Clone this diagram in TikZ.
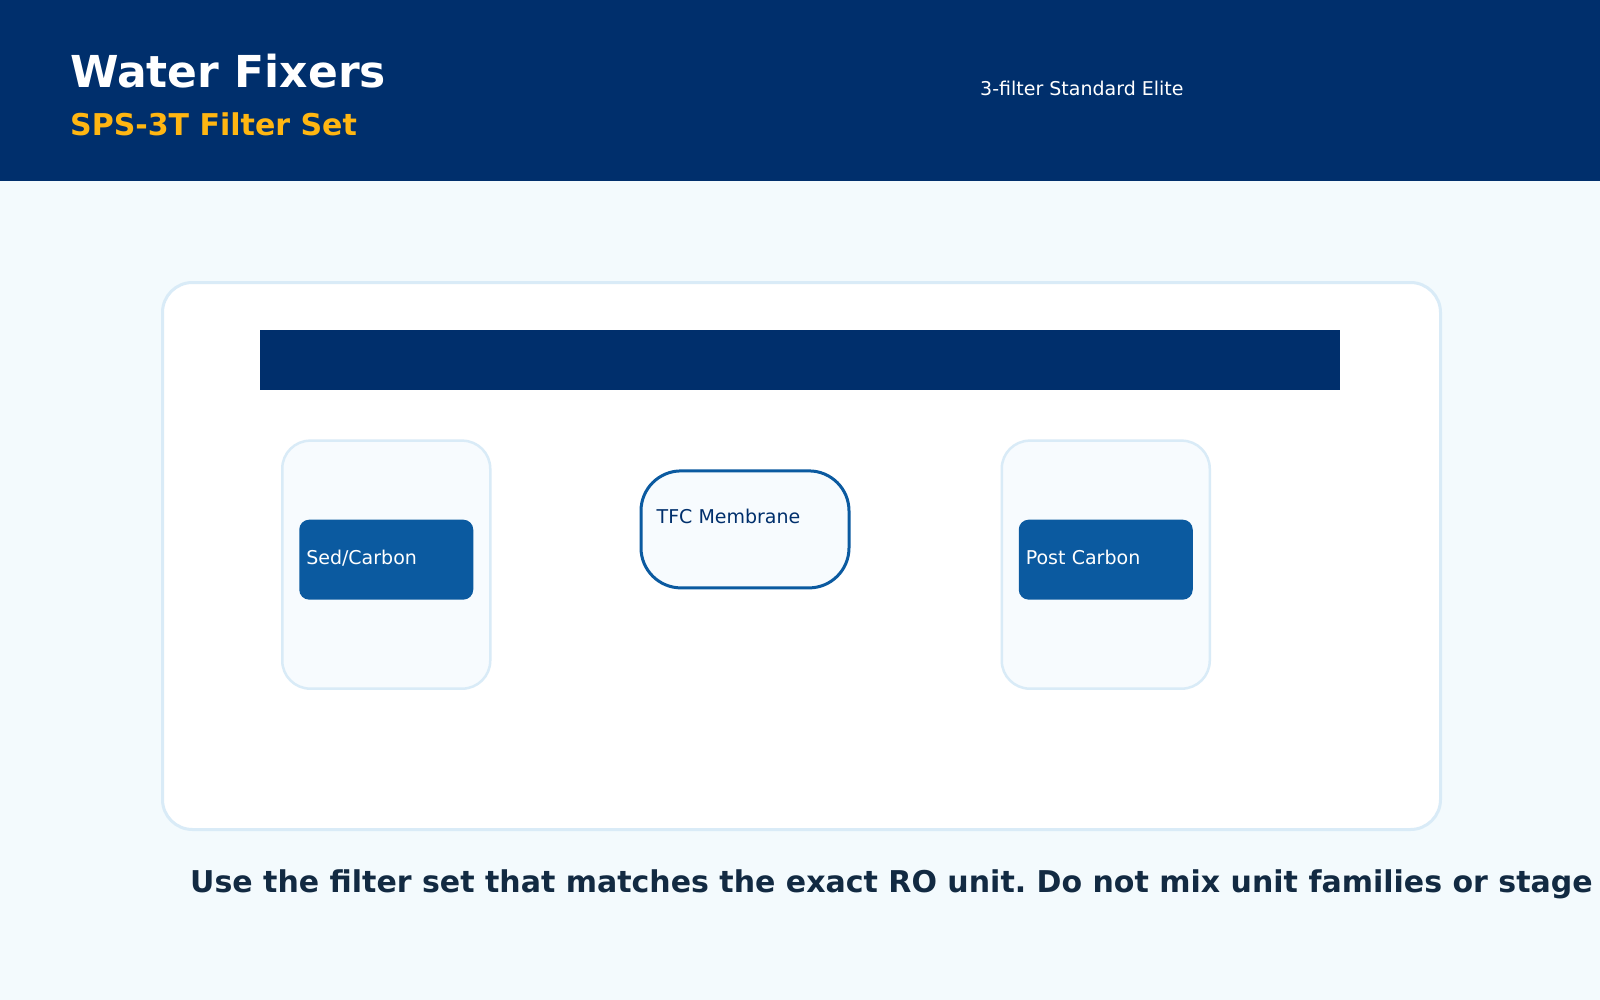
\documentclass[tikz,border=0pt]{standalone}
\usepackage{fontspec}
\setmainfont{DejaVu Sans}
\usepackage{xcolor}
\usetikzlibrary{positioning}

\definecolor{navy}{RGB}{0,47,108}
\definecolor{gold}{RGB}{255,182,18}
\definecolor{paleblue}{RGB}{243,250,253}
\definecolor{edgeblue}{RGB}{217,235,247}
\definecolor{stageblue}{RGB}{11,90,160}
\definecolor{cellfill}{RGB}{247,251,254}
\definecolor{ink}{RGB}{18,42,66}

\tikzset{
  card/.style={draw=edgeblue, line width=3pt, fill=white, rounded corners=30pt,
    minimum width=1278pt, minimum height=547pt, inner sep=0pt},
  cartridge/.style={draw=edgeblue, line width=2.5pt, fill=cellfill, rounded corners=28pt,
    minimum width=208pt, minimum height=248pt, inner sep=0pt},
  stage/.style={fill=stageblue, rounded corners=10pt, text=white, minimum width=174pt,
    minimum height=80pt, text width=160pt, inner xsep=7pt, inner ysep=0pt, align=left,
    text height=17pt, text depth=7pt, font=\fontsize{19}{23}\selectfont},
  membrane/.style={draw=stageblue, line width=3pt, fill=cellfill, rounded corners=40pt,
    minimum width=208pt, minimum height=117pt, inner sep=0pt},
  lbl/.style={anchor=base west, inner sep=0pt, font=\fontsize{19}{23}\selectfont},
}

\begin{document}
\frenchspacing
\begin{tikzpicture}[x=1pt,y=-1pt]
  \path[use as bounding box, fill=paleblue] (0,0) rectangle (1600,1000);
  \fill[navy] (0,0) rectangle (1600,181);

  % header
  \node (brand) [anchor=base west, inner sep=0pt, text=white,
    font=\bfseries\fontsize{44}{52}\selectfont] at (70,88) {Water Fixers};
  \node (set) [below=48pt of brand.base west, anchor=base west, inner sep=0pt, text=gold,
    font=\bfseries\fontsize{30}{36}\selectfont] {SPS-3T Filter Set};
  \node (line) [lbl, text=white] at (980,96) {3-filter Standard Elite};

  % card
  \node (card) [card, anchor=north west] at (161,281) {};
  \node (bar) [below right=49pt and 99pt of card.north west, fill=navy,
    minimum width=1080pt, minimum height=60pt, inner sep=0pt] {};

  % stages
  \node (pre) [cartridge, below right=49pt and 21pt of bar.south west] {};
  \node (sed) [stage] at ([yshift=5pt]pre.center) {Sed/Carbon};
  \node (ro) [membrane, right=148pt of pre.north east, anchor=north west, yshift=-30pt] {};
  \node (tfc) [lbl, text=navy] at ([xshift=17pt,yshift=-54pt]ro.north west) {TFC Membrane};
  \node (post) [cartridge, right=509pt of pre] {};
  \node (pc) [stage] at ([yshift=5pt]post.center) {Post Carbon};

  % note
  \node (note) [below right=61pt and 29pt of card.south west, anchor=base west, inner sep=0pt,
    text=ink, font=\bfseries\fontsize{30}{36}\selectfont]
    {Use the filter set that matches the exact RO unit. Do not mix unit families or stage};
\end{tikzpicture}
\end{document}
